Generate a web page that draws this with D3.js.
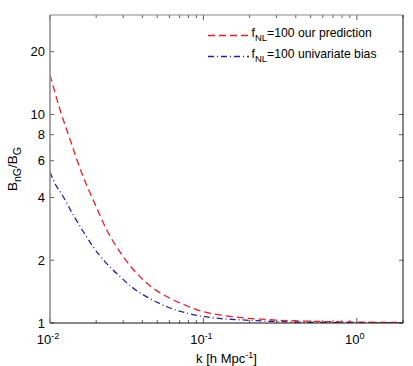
<!DOCTYPE html>
<html>
<head>
<meta charset="utf-8">
<script src="https://cdn.jsdelivr.net/npm/d3@7"></script>
<style>
  html, body { margin: 0; padding: 0; background: #fff; }
  svg text { font-family: "Liberation Sans", Arial, Helvetica, sans-serif; fill: #000; }
</style>
</head>
<body>
<svg id="chart" width="413" height="366"></svg>
<script>
// values
const kRed = [0.01, 0.0116, 0.0135, 0.0165, 0.0191, 0.0234, 0.030, 0.0405, 0.0637, 0.0758, 0.0947, 0.122, 0.156, 0.194, 0.251, 0.314, 0.5, 1.0, 2.0];
const bRed = [15.5, 10.6, 7.6, 5.0, 3.9, 2.8, 2.08, 1.61, 1.29, 1.22, 1.145, 1.10, 1.072, 1.053, 1.04, 1.03, 1.02, 1.01, 1.005];
const kBlue = [0.01, 0.0105, 0.0122, 0.0142, 0.0165, 0.0191, 0.0228, 0.0286, 0.0349, 0.0448, 0.0589, 0.0757, 0.102, 0.134, 0.181, 0.244, 0.322, 0.6, 1.0, 2.0];
const bBlue = [5.3, 4.85, 4.03, 3.29, 2.74, 2.32, 1.97, 1.67, 1.47, 1.31, 1.19, 1.122, 1.072, 1.048, 1.034, 1.022, 1.015, 1.006, 1.003, 1.0];
const yTicks = [1, 2, 4, 6, 8, 10, 20];
const xMajor = [0.01, 0.1, 1];
const xMajorLabels = ["-2", "-1", "0"];
const legendLabels = ["=100 our prediction", "=100 univariate bias"];

const svg = d3.select("#chart");
const pL = 50, pR = 403, pT = 15, pB = 323;

const x = d3.scaleLog().domain([0.01, 2]).range([pL, pR]);
const y = d3.scaleLog().domain([1, 30]).range([pB, pT]);

// minor x ticks 2..9 per decade
const xMinor = [];
[0.01, 0.1, 1].forEach(d => {
  for (let m = 2; m <= 9; m++) {
    if (d * m <= 2) xMinor.push(d * m);
  }
});

const tickLen = 4;

// ticks on all four sides (inward)
const g = svg.append("g");
xMajor.concat(xMinor).forEach(v => {
  const len = xMajor.includes(v) ? tickLen + 1 : tickLen - 1;
  g.append("line").attr("x1", x(v)).attr("x2", x(v)).attr("y1", pB).attr("y2", pB - len)
    .attr("stroke", "#333").attr("stroke-width", 0.8);
  g.append("line").attr("x1", x(v)).attr("x2", x(v)).attr("y1", pT).attr("y2", pT + len)
    .attr("stroke", "#333").attr("stroke-width", 0.8);
});
yTicks.forEach(v => {
  g.append("line").attr("x1", pL).attr("x2", pL + tickLen).attr("y1", y(v)).attr("y2", y(v))
    .attr("stroke", "#333").attr("stroke-width", 0.8);
  g.append("line").attr("x1", pR).attr("x2", pR - tickLen).attr("y1", y(v)).attr("y2", y(v))
    .attr("stroke", "#333").attr("stroke-width", 0.8);
});

// curves
const line = d3.line().curve(d3.curveMonotoneX);
const redPts = kRed.map((k, i) => [x(k), y(bRed[i])]);
const bluePts = kBlue.map((k, i) => [x(k), y(bBlue[i])]);

const plot = svg.append("g");
plot.append("clipPath").attr("id", "clip").append("rect")
  .attr("x", pL).attr("y", pT).attr("width", pR - pL).attr("height", pB - pT);

plot.append("path").attr("d", line(bluePts)).attr("clip-path", "url(#clip)")
  .attr("fill", "none").attr("stroke", "#22229a").attr("stroke-width", 1.3)
  .attr("stroke-dasharray", "6,3,1,3");
plot.append("path").attr("d", line(redPts)).attr("clip-path", "url(#clip)")
  .attr("fill", "none").attr("stroke", "#f01a24").attr("stroke-width", 1.3)
  .attr("stroke-dasharray", "7,4");

// frame
svg.append("line").attr("x1", pL).attr("x2", pR).attr("y1", pT).attr("y2", pT).attr("stroke", "#888").attr("stroke-width", 1.2);
svg.append("line").attr("x1", pL).attr("x2", pL).attr("y1", pT).attr("y2", pB).attr("stroke", "#888").attr("stroke-width", 1.5);
svg.append("line").attr("x1", pL).attr("x2", pR).attr("y1", pB).attr("y2", pB).attr("stroke", "#111").attr("stroke-width", 1);
svg.append("line").attr("x1", pR).attr("x2", pR).attr("y1", pT).attr("y2", pB).attr("stroke", "#111").attr("stroke-width", 1);

// y tick labels
yTicks.forEach(v => {
  svg.append("text").attr("x", pL - 5).attr("y", y(v) + 4.5)
    .attr("text-anchor", "end").style("font-size", "13px").text(v);
});

// x tick labels 10^n
xMajor.forEach((v, i) => {
  const t = svg.append("text").attr("x", x(v) - 2).attr("y", 344)
    .attr("text-anchor", "middle").style("font-size", "13px");
  t.append("tspan").text("10");
  t.append("tspan").attr("dy", -5).style("font-size", "9px").text(xMajorLabels[i]);
});

// x label
const xl = svg.append("text").attr("x", (pL + pR) / 2).attr("y", 363)
  .attr("text-anchor", "middle").style("font-size", "13px");
xl.append("tspan").text("k [h Mpc");
xl.append("tspan").attr("dy", -5).style("font-size", "9px").text("-1");
xl.append("tspan").attr("dy", 5).text("]");

// y label
const yl = svg.append("text").attr("transform", `translate(17,${(pT + pB) / 2}) rotate(-90)`)
  .attr("text-anchor", "middle").style("font-size", "13.5px");
yl.append("tspan").text("B");
yl.append("tspan").attr("dy", 4).style("font-size", "10.5px").text("nG");
yl.append("tspan").attr("dy", -4).text("/B");
yl.append("tspan").attr("dy", 4).style("font-size", "10.5px").text("G");

// legend
const legend = [
  { color: "#f01a24", dash: "7,4", y: 35.5 },
  { color: "#22229a", dash: "6,3,1,3", y: 56.5 }
];
legend.forEach((d, i) => {
  svg.append("line").attr("x1", 208).attr("x2", 249).attr("y1", d.y).attr("y2", d.y)
    .attr("stroke", d.color).attr("stroke-width", 1.3).attr("stroke-dasharray", d.dash);
  const t = svg.append("text").attr("x", 251.5).attr("y", d.y + 1.5).style("font-size", "12.2px");
  t.append("tspan").text("f");
  t.append("tspan").attr("dy", 3.5).style("font-size", "9.5px").text("NL");
  t.append("tspan").attr("dy", -3.5).text(legendLabels[i]);
});
</script>
</body>
</html>
